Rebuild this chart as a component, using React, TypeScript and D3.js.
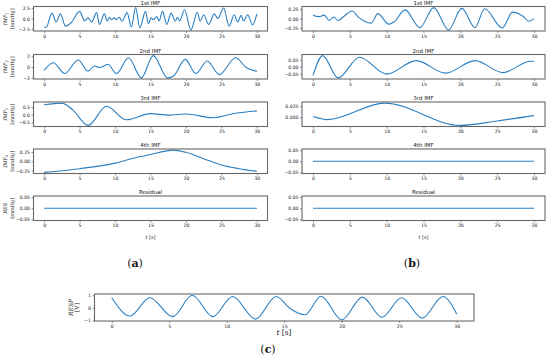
import React, { useRef, useEffect } from 'react';
import * as d3 from 'd3';

// tick values of the time axis
const xTicks = [0, 5, 10, 15, 20, 25, 30];

// (a) IMFs of the blood pressure signal
const aImf1T = [0, 0.3, 1.1, 1.7, 2.3, 3.0, 3.8, 5.0, 5.7, 6.2, 6.7, 7.4, 7.8, 8.5, 8.9, 9.2, 9.5, 9.9, 10.2, 10.6, 11.0, 11.7, 12.3, 12.9, 13.5, 14.3, 14.7, 15.1, 15.4, 15.9, 16.2, 16.7, 17.3, 17.9, 18.5, 18.8, 19.1, 19.8, 20.7, 21.6, 22.0, 22.5, 23.2, 24.0, 24.5, 25.3, 26.1, 26.8, 27.3, 27.8, 28.1, 28.7, 29.4, 30];
const aImf1V = [-2.0, -2.1, 1.3, -0.8, 1.1, -1.8, -1.0, 1.7, -0.5, 0.15, -0.8, 1.4, -1.4, 1.1, -0.6, 0.3, -0.3, 0.15, -0.3, 0.3, -0.6, 1.4, -2.0, 2.6, -2.2, 1.7, -1.2, 0.15, -0.3, 0.5, -0.6, 1.7, -1.4, 1.3, -0.6, 0.3, -0.6, 2.1, -2.7, 1.5, -0.6, 0.9, -1.4, 1.1, 0.0, 2.5, -1.8, 0.9, -0.8, 0.8, -0.6, 0.9, -1.5, 1.1];
const aImf2T = [0, 1.3, 2.9, 4.8, 6.2, 7.1, 7.8, 9.0, 10.2, 11.9, 13.7, 15.4, 17.4, 18.3, 19.9, 21.4, 23.0, 24.7, 27.0, 28.5, 30];
const aImf2V = [-0.6, 0.8, -1.2, 1.3, -0.75, 0.2, -0.1, 0.5, -1.2, 1.7, -2.0, 2.1, -2.0, -1.6, 1.4, -1.2, 1.1, -1.4, 1.7, -0.1, -0.8];
const aImf3T = [0, 2.5, 4.0, 6.2, 8.8, 11.6, 15.0, 17.5, 20.0, 23.8, 27.0, 30];
const aImf3V = [0.65, 0.76, 0.33, -0.7, 0.55, -0.33, 0.07, -0.03, 0.05, -0.2, 0.1, 0.25];
const aImf4T = [0, 5, 10, 13, 15, 18.2, 20, 22.5, 25, 27.5, 30];
const aImf4V = [-0.3, -0.2, -0.05, 0.1, 0.18, 0.3, 0.24, 0.07, -0.1, -0.2, -0.27];
const aResT = [0, 30];
const aResV = [0, 0];

// (b) IMFs of the second signal
const bImf1T = [0, 0.8, 1.5, 2.2, 2.8, 3.4, 4.2, 5.3, 6.2, 7.0, 7.9, 8.8, 10.3, 11.0, 12.5, 14.5, 16.4, 18.4, 20.2, 22.0, 23.3, 25.7, 27.1, 28.5, 29.3, 30];
const bImf1V = [0.09, 0.05, 0.09, -0.05, 0.04, -0.05, 0.06, 0.2, 0.03, -0.07, -0.12, 0.13, -0.15, -0.09, 0.23, -0.24, 0.29, -0.3, 0.27, -0.24, 0.26, -0.25, 0.17, 0.06, -0.07, 0.0];
const bImf2T = [0, 1.3, 3.4, 6.3, 10.0, 14.0, 18.0, 22.0, 25.8, 29.5, 30];
const bImf2V = [-0.062, 0.08, -0.08, 0.068, -0.053, 0.044, -0.046, 0.044, -0.042, 0.04, 0.04];
const bImf3T = [0, 2, 9.7, 20, 25, 30];
const bImf3V = [0.002, -0.005, 0.032, -0.018, -0.008, 0.004];
const bImf4T = [0, 30];
const bImf4V = [0, 0];
const bResT = [0, 30];
const bResV = [0, 0];

// (c) respiration
const respT = [0, 1.6, 3.3, 5.3, 7.0, 8.8, 10.5, 12.5, 14.3, 15.5, 16.8, 18.2, 20.0, 21.8, 23.5, 25.2, 27.0, 28.8, 30];
const respV = [0.8, -0.65, 0.8, -0.7, 1.0, -0.7, 0.9, -0.9, 0.9, -0.05, -0.55, 0.92, -0.95, 0.85, -0.75, 0.8, -0.82, 0.9, -0.5];

const titles = ['1st IMF', '2nd IMF', '3rd IMF', '4th IMF', 'Residual'];
const leftLabels = ['IMF', 'IMF', 'IMF', 'IMF', 'RES'];
const leftSubs = ['1', '2', '3', '4', ''];
const aTicks = [[-2.5, 0, 2.5], [-2, 0, 2], [-0.5, 0, 0.5], [-0.25, 0, 0.25], [-0.05, 0, 0.05]];
const bTicks = [[-0.25, 0, 0.25], [-0.05, 0, 0.05], [0, 0.025], [-0.05, 0, 0.05], [-0.05, 0, 0.05]];
const aFmt = ['.1f', '.0f', '.1f', '.2f', '.2f'];
const bFmt = ['.2f', '.2f', '.3f', '.2f', '.2f'];
const respTicks = [-1, 0, 1];

const blue = '#2b7fc1';
const rowTops = [6.5, 54.5, 102, 149, 196];
const rowH = 24.5;

const App = () => {
    const svgRef = useRef(null);
    useEffect(() => {
        const svg = d3.select(svgRef.current);
        svg.selectAll('*').remove();

        const panel = (p) => {
            const g = svg.append('g');
            const x = d3.scaleLinear().domain([-1.5, 31.5]).range([p.x0, p.x1]);
            let [lo, hi] = d3.extent(p.v);
            if (hi - lo < 1e-9) { lo = -0.055; hi = 0.055; }
            else { const pad = (hi - lo) * 0.05; lo -= pad; hi += pad; }
            const y = d3.scaleLinear().domain([lo, hi]).range([p.y1, p.y0]);

            const xa = g.append('g').attr('transform', `translate(0,${p.y1})`)
                .call(d3.axisBottom(x).tickValues(xTicks).tickSize(2).tickPadding(1.5).tickFormat(d3.format('d')));
            const ya = g.append('g').attr('transform', `translate(${p.x0},0)`)
                .call(d3.axisLeft(y).tickValues(p.yTicks).tickSize(2).tickPadding(1.5)
                    .tickFormat(d => d3.format(p.fmt)(d).replace('-', '\u2212')));
            [xa, ya].forEach(a => {
                a.select('.domain').remove();
                a.selectAll('line').attr('stroke', '#444').attr('stroke-width', 0.6);
                a.selectAll('text').attr('font-size', p.fs).attr('fill', '#222')
                    .attr('font-family', 'DejaVu Sans, sans-serif');
            });

            g.append('path')
                .attr('d', d3.line().x((d, i) => x(p.t[i])).y(d => y(d)).curve(d3.curveMonotoneX)(p.v))
                .attr('fill', 'none').attr('stroke', blue).attr('stroke-width', 1.1);

            g.append('rect').attr('x', p.x0).attr('y', p.y0)
                .attr('width', p.x1 - p.x0).attr('height', p.y1 - p.y0)
                .attr('fill', 'none').attr('stroke', '#686868').attr('stroke-width', 1.1);

            if (p.title) {
                g.append('text').attr('x', (p.x0 + p.x1) / 2).attr('y', p.y0 - 1.8)
                    .attr('text-anchor', 'middle').attr('font-size', 5.5).attr('fill', '#222')
                    .attr('font-family', 'DejaVu Sans, sans-serif').text(p.title);
            }
            if (p.ylab) {
                const cy = (p.y0 + p.y1) / 2;
                const t1 = g.append('text').attr('transform', `translate(${p.lx},${cy}) rotate(-90)`)
                    .attr('text-anchor', 'middle').attr('font-size', p.lfs).attr('fill', '#222')
                    .attr('font-family', 'DejaVu Serif, serif').attr('font-style', 'italic');
                t1.append('tspan').text(p.ylab);
                if (p.sub) t1.append('tspan').attr('font-size', p.lfs * 0.7).attr('dy', 1.2).text(p.sub);
                g.append('text').attr('transform', `translate(${p.lx + p.lgap},${cy}) rotate(-90)`)
                    .attr('text-anchor', 'middle').attr('font-size', p.lfs).attr('fill', '#222')
                    .attr('font-family', 'DejaVu Serif, serif').text(p.unit);
            }
        };

        const aData = [[aImf1T, aImf1V], [aImf2T, aImf2V], [aImf3T, aImf3V], [aImf4T, aImf4V], [aResT, aResV]];
        const bData = [[bImf1T, bImf1V], [bImf2T, bImf2V], [bImf3T, bImf3V], [bImf4T, bImf4V], [bResT, bResV]];

        rowTops.forEach((top, i) => {
            panel({
                x0: 33.5, x1: 267.5, y0: top, y1: top + rowH, t: aData[i][0], v: aData[i][1],
                yTicks: aTicks[i], fmt: aFmt[i], fs: 4.6, title: titles[i],
                ylab: leftLabels[i], sub: leftSubs[i], unit: '[mmHg]', lx: 7, lgap: 6.5, lfs: 5
            });
            panel({
                x0: 302, x1: 545, y0: top, y1: top + rowH, t: bData[i][0], v: bData[i][1],
                yTicks: bTicks[i], fmt: bFmt[i], fs: 4.6, title: titles[i]
            });
        });

        panel({
            x0: 94.5, x1: 474, y0: 294, y1: 321, t: respT, v: respV,
            yTicks: respTicks, fmt: '.0f', fs: 4.6,
            ylab: 'RESP', sub: '', unit: '[V]', lx: 73, lgap: 6, lfs: 6
        });

        // time axis labels
        const tl = (x, yy, fs) => {
            const t = svg.append('text').attr('x', x).attr('y', yy).attr('text-anchor', 'middle')
                .attr('font-size', fs).attr('fill', '#222').attr('font-family', 'DejaVu Serif, serif');
            t.append('tspan').attr('font-style', 'italic').text('t');
            t.append('tspan').text(' [s]');
        };
        tl(150.5, 239, 5);
        tl(423.5, 239, 5);
        tl(284, 335, 7.5);

        // sub-figure captions
        const cap = (x, yy, letter) => {
            const t = svg.append('text').attr('x', x).attr('y', yy).attr('text-anchor', 'middle')
                .attr('font-size', 11).attr('fill', '#111').attr('font-family', 'DejaVu Serif, serif');
            t.append('tspan').text('(');
            t.append('tspan').attr('font-weight', 'bold').text(letter);
            t.append('tspan').text(')');
        };
        cap(135, 267, 'a');
        cap(412, 267, 'b');
        cap(268, 353, 'c');
    }, []);

    return <svg ref={svgRef} width={550} height={358}
        style={{ position: 'absolute', left: 0, top: 0, background: '#fff' }} />;
};

export default App;
